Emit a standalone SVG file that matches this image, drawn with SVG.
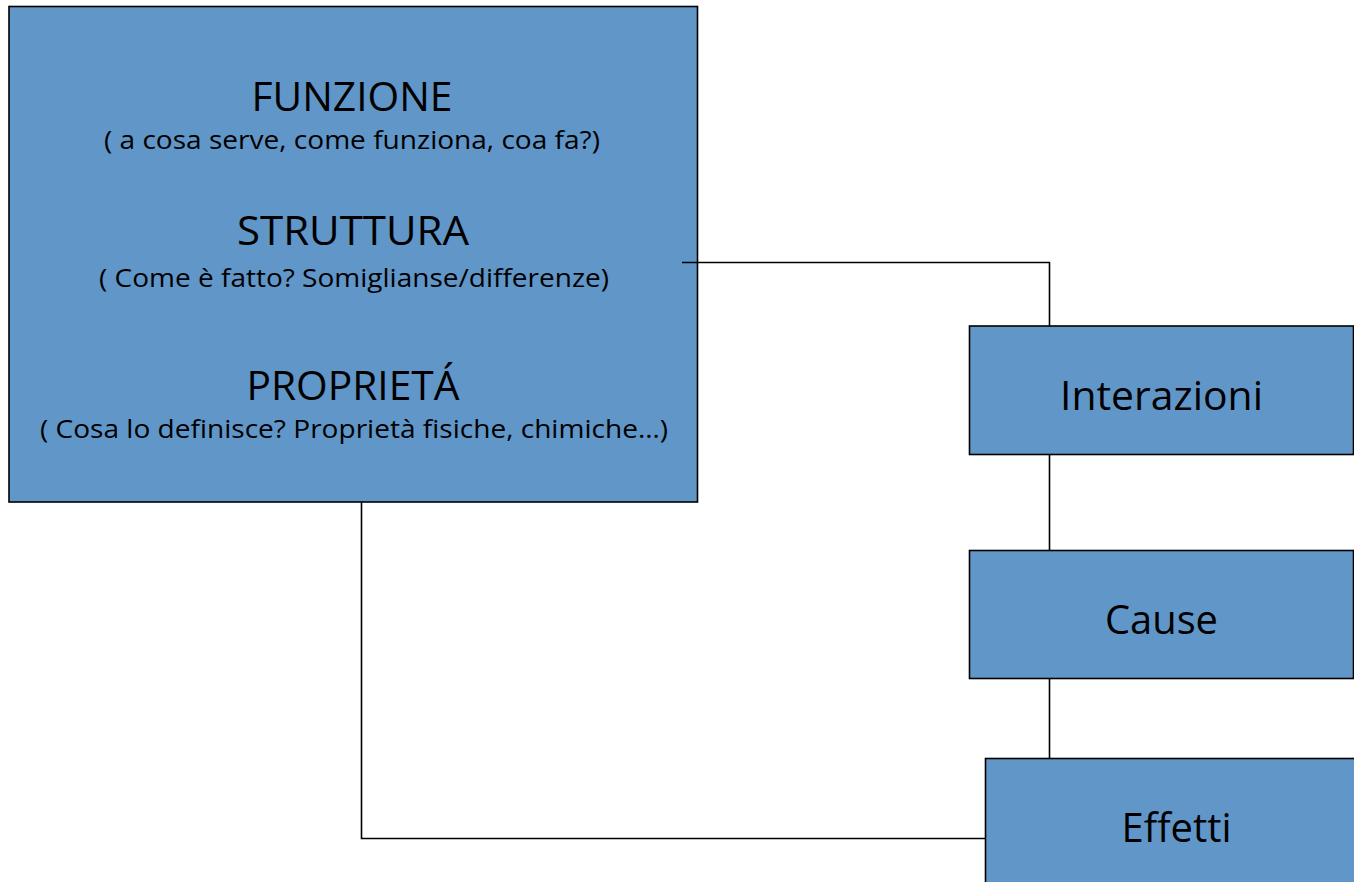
<svg xmlns="http://www.w3.org/2000/svg" width="1354" height="882" viewBox="0 0 1354 882">
<style>
.box{fill:#6096c8;stroke:#000;stroke-width:1.6}
.con{fill:none;stroke:#000;stroke-width:1.6}
.t{font-family:"Open Sans","Liberation Sans",sans-serif;fill:#000;text-anchor:middle}
.h{font-size:40px}
.s{font-size:26px}
.b{font-size:41px}
</style>
<rect width="1354" height="882" fill="#fff"/>
<g id="main">
<rect class="box" x="9" y="6.5" width="688.5" height="495.5"/>
<text class="t h" x="352" y="111" textLength="201" lengthAdjust="spacingAndGlyphs">FUNZIONE</text>
<text class="t s" x="352" y="149" textLength="496" lengthAdjust="spacingAndGlyphs">( a cosa serve, come funziona, coa fa?)</text>
<text class="t h" x="353" y="245" textLength="232" lengthAdjust="spacingAndGlyphs">STRUTTURA</text>
<text class="t s" x="354" y="287" textLength="510" lengthAdjust="spacingAndGlyphs">( Come è fatto? Somiglianse/differenze)</text>
<text class="t h" x="353" y="400" textLength="213" lengthAdjust="spacingAndGlyphs">PROPRIETÁ</text>
<text class="t s" x="354" y="438" textLength="628" lengthAdjust="spacingAndGlyphs">( Cosa lo definisce? Proprietà fisiche, chimiche…)</text>
</g>
<g id="interazioni">
<rect class="box" x="969.5" y="326" width="384" height="128.5"/>
<text class="t b" x="1161.5" y="410" textLength="203" lengthAdjust="spacingAndGlyphs">Interazioni</text>
</g>
<g id="cause">
<rect class="box" x="969.5" y="550.5" width="384" height="128"/>
<text class="t b" x="1161.5" y="634" textLength="113" lengthAdjust="spacingAndGlyphs">Cause</text>
</g>
<g id="effetti">
<rect class="box" x="985.5" y="758.5" width="380" height="140"/>
<text class="t b" x="1176.5" y="842" textLength="110" lengthAdjust="spacingAndGlyphs">Effetti</text>
</g>
<g id="connectors">
<polyline class="con" points="682,262.5 1049.5,262.5 1049.5,326"/>
<line class="con" x1="1049.5" y1="454.5" x2="1049.5" y2="550.5"/>
<line class="con" x1="1049.5" y1="678.5" x2="1049.5" y2="758.5"/>
<polyline class="con" points="361.5,502 361.5,838.5 985.5,838.5"/>
</g>
</svg>
